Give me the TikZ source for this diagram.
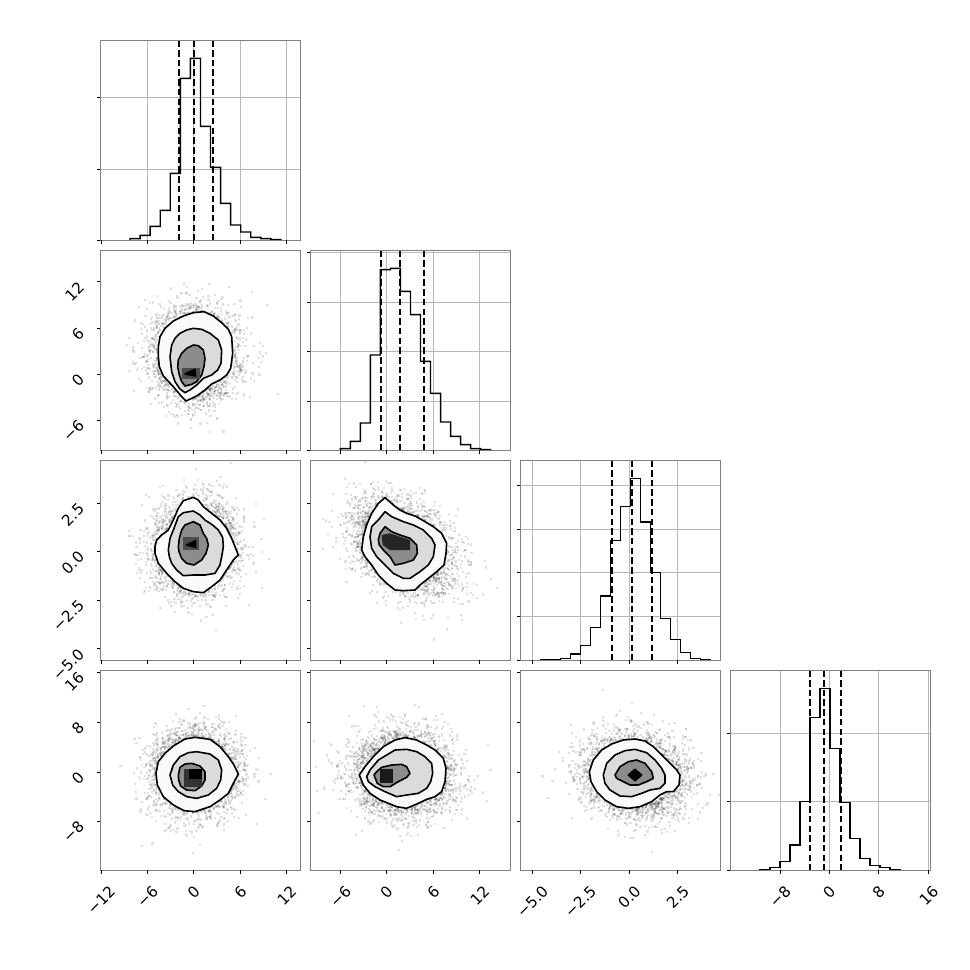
\documentclass[tikz,border=0pt]{standalone}
\usepackage{graphicx}
\usepackage{fontspec}
\setmainfont{DejaVu Sans}
\tikzset{
  frame/.style={draw=black!50, line width=1pt},
  gridl/.style={draw=black!28, line width=0.8pt},
  histl/.style={draw=black, line width=1.4pt, line join=miter},
  qline/.style={draw=black, line width=1.8pt, dash pattern=on 6.5pt off 3.2pt},
  tk/.style={draw=black, line width=0.8pt},
  cl/.style={draw=black, line width=1.6pt, line join=round},
  lvA/.style={cl, fill=black!2},
  lvB/.style={cl, fill=black!14},
  lvC/.style={cl, fill=black!45},
  lab/.style={inner sep=0pt, font=\fontsize{15.2pt}{18pt}\selectfont},
}
\newcommand\mycloud[7]{%
  \pgfmathsetseed{#7}%
  \foreach \i in {1,...,#6}{%
    \pgfmathsetmacro\rr{sqrt(2.25-2*ln(rnd+0.00001))}%
    \pgfmathsetmacro\tt{360*rnd}%
    \pgfmathsetmacro\ca{\rr*cos(\tt)}%
    \pgfmathsetmacro\cb{\rr*sin(\tt)}%
    \pgfmathsetmacro\px{#1+#3*\ca-1.1}%
    \pgfmathsetmacro\py{#2+#4*(#5*\ca+sqrt(1-#5*#5)*\cb)-1.1}%
    \fill (\px,\py) rectangle +(2.2,2.2);
  }}
\newcommand\myhist[4]{%
  \draw[histl] (#1,631) \foreach \h [count=\k] in {#4} { -- ({#1+(\k-1)*#2},\h) -- ({#1+\k*#2},\h) } -- (#3,631);}
\newcommand\xtk[2]{\foreach \xx in {#2}{\draw[tk] (\xx,#1) -- (\xx,#1+3.5);}}
\newcommand\ytk[2]{\foreach \yy in {#2}{\draw[tk] (#1,\yy) -- (#1-3.5,\yy);}}
\begin{document}
\begin{tikzpicture}[x=1pt,y=-1pt]
\fill[white] (0,0) rectangle (970,970);
\useasboundingbox (0,0) rectangle (970,970);

% ---------------- histogram 1 ----------------
\begin{scope}[shift={(90,30)}, scale=1/3]
  \foreach \g in {173,311,451,589} \draw[gridl] (\g,31) -- (\g,631);
  \foreach \g in {201,417} \draw[gridl] (31,\g) -- (631,\g);
  \myhist{120}{30.2}{573}{626,616,589,541,430,145,85,289,412,520,585,606,622,626,629}
  \foreach \q in {267,312,369} \draw[qline] (\q,31) -- (\q,631);
\end{scope}
% ---------------- histogram 2 ----------------
\begin{scope}[shift={(300,240)}, scale=1/3]
  \foreach \g in {121,259,400,539} \draw[gridl] (\g,31) -- (\g,631);
  \foreach \g in {37,186,334,484} \draw[gridl] (31,\g) -- (631,\g);
  \myhist{121}{30.07}{572}{626,604,549,345,89,85,154,224,364,460,546,589,614,626,629}
  \foreach \q in {243,300,372} \draw[qline] (\q,31) -- (\q,631);
\end{scope}
% ---------------- histogram 3 ----------------
\begin{scope}[shift={(510,450)}, scale=1/3]
  \foreach \g in {67,211,357,502} \draw[gridl] (\g,31) -- (\g,631);
  \foreach \g in {107,238,368,499} \draw[gridl] (31,\g) -- (631,\g);
  \myhist{91}{30}{601}{629,628,625,612,586,532,438,272,170,85,216,367,505,568,607,625,629}
  \foreach \q in {305,365,426} \draw[qline] (\q,31) -- (\q,631);
\end{scope}
% ---------------- histogram 4 ----------------
\begin{scope}[shift={(720,660)}, scale=1/3]
  \foreach \g in {180,327,476,626} \draw[gridl] (\g,31) -- (\g,631);
  \foreach \g in {220,425} \draw[gridl] (31,\g) -- (631,\g);
  \myhist{120}{30}{540}{628,622,604,555,425,172,86,266,427,535,595,616,622,628}
  \foreach \q in {269,312,362} \draw[qline] (\q,31) -- (\q,631);
\end{scope}

% ---------------- scatter clouds ----------------
\begin{scope}[fill=black, fill opacity=0.12]
\begin{scope}\clip (100.3,250.3) rectangle (300.3,450.3);
  \mycloud{195}{355}{20}{22}{0}{1500}{11}\end{scope}
\begin{scope}\clip (100.3,460.3) rectangle (300.3,660.3);
  \mycloud{195}{547}{20}{22}{-0.05}{1500}{22}\end{scope}
\begin{scope}\clip (100.3,670.3) rectangle (300.3,870.3);
  \mycloud{195}{773}{20}{20}{0}{1500}{33}\end{scope}
\begin{scope}\clip (310.3,460.3) rectangle (510.3,660.3);
  \mycloud{403}{547}{24}{22}{0.35}{1500}{44}\end{scope}
\begin{scope}\clip (310.3,670.3) rectangle (510.3,870.3);
  \mycloud{403}{774}{24}{20}{0.05}{1500}{55}\end{scope}
\begin{scope}\clip (520.3,670.3) rectangle (720.3,870.3);
  \mycloud{635}{775}{24}{20}{0.1}{1500}{66}\end{scope}
\end{scope}

% ---------------- contours (2,1) ----------------
\begin{scope}[shift={(30,240)}, scale=1/3]
  \filldraw[lvA] (385,320)--(390,290)--(405,265)--(430,243)--(460,228)--(490,218)--(522,215)--(550,228)--(575,248)--(595,268)--(605,290)--(608,340)--(602,385)--(590,405)--(570,420)--(545,432)--(525,450)--(500,468)--(468,483)--(455,470)--(430,440)--(400,408)--(388,380)--(385,350)--cycle;
  \filldraw[lvB] (420,350)--(425,315)--(435,295)--(450,280)--(470,270)--(490,265)--(515,268)--(540,280)--(565,300)--(575,330)--(573,370)--(563,390)--(545,405)--(520,415)--(500,435)--(480,450)--(465,458)--(450,447)--(435,425)--(425,395)--cycle;
  \filldraw[lvC] (443,380)--(445,360)--(455,340)--(470,325)--(490,315)--(505,317)--(520,330)--(525,355)--(522,380)--(515,405)--(500,425)--(485,433)--(465,438)--(455,425)--(448,405)--cycle;
  \fill[black!70] (455,385) rectangle (510,418);
  \filldraw[cl, fill=black] (465,402)--(495,388)--(497,408)--cycle;
\end{scope}
% ---------------- contours (3,1) ----------------
\begin{scope}[shift={(30,450)}, scale=1/3]
  \filldraw[lvA] (375,290)--(380,270)--(395,255)--(415,240)--(430,210)--(445,175)--(460,152)--(490,142)--(505,150)--(520,170)--(545,190)--(570,210)--(590,235)--(605,265)--(625,315)--(610,330)--(590,360)--(570,390)--(545,410)--(520,428)--(490,425)--(460,415)--(435,395)--(410,370)--(385,340)--(375,310)--cycle;
  \filldraw[lvB] (418,320)--(415,300)--(420,265)--(430,240)--(445,200)--(460,188)--(490,183)--(510,195)--(525,210)--(548,225)--(565,240)--(578,262)--(580,290)--(575,320)--(570,345)--(555,370)--(525,375)--(490,375)--(460,377)--(440,360)--(425,340)--cycle;
  \filldraw[lvC] (447,305)--(445,290)--(448,265)--(455,240)--(465,225)--(490,215)--(510,225)--(520,250)--(530,265)--(535,285)--(528,310)--(515,330)--(492,345)--(470,340)--(455,325)--cycle;
  \fill[black!70] (458,262) rectangle (508,300);
  \filldraw[cl, fill=black] (470,285)--(497,272)--(497,292)--cycle;
\end{scope}
% ---------------- contours (4,1) ----------------
\begin{scope}[shift={(30,660)}, scale=1/3]
  \filldraw[lvA] (378,340)--(385,305)--(405,280)--(430,258)--(465,237)--(495,232)--(540,238)--(570,260)--(595,290)--(612,315)--(625,342)--(610,370)--(595,400)--(570,420)--(540,440)--(495,455)--(462,452)--(430,435)--(400,410)--(382,375)--cycle;
  \filldraw[lvB] (420,345)--(430,315)--(450,290)--(475,278)--(500,275)--(540,282)--(565,300)--(575,330)--(572,360)--(560,385)--(535,405)--(500,415)--(470,410)--(445,395)--(428,375)--cycle;
  \filldraw[lvC] (446,360)--(445,345)--(450,322)--(465,312)--(485,310)--(510,318)--(525,335)--(525,360)--(515,378)--(495,392)--(470,390)--(452,378)--cycle;
  \fill[black!80] (462,328) rectangle (515,382);
  \fill[black] (478,328) rectangle (515,358);
\end{scope}
% ---------------- contours (3,2) ----------------
\begin{scope}[shift={(300,450)}, scale=1/3]
  \filldraw[lvA] (185,300)--(190,260)--(200,225)--(215,190)--(235,160)--(255,143)--(280,165)--(300,180)--(320,190)--(345,198)--(370,212)--(400,230)--(425,250)--(440,280)--(438,310)--(432,345)--(410,365)--(385,385)--(360,405)--(345,420)--(310,422)--(285,420)--(260,400)--(235,375)--(215,345)--(195,320)--cycle;
  \filldraw[lvB] (215,295)--(210,260)--(215,230)--(235,210)--(255,185)--(275,200)--(310,215)--(340,225)--(370,240)--(395,265)--(405,285)--(400,320)--(385,345)--(360,365)--(330,385)--(310,385)--(280,370)--(255,345)--(230,320)--cycle;
  \filldraw[lvC] (238,285)--(235,270)--(240,250)--(255,230)--(275,245)--(300,255)--(330,265)--(350,285)--(352,310)--(340,330)--(310,340)--(285,345)--(270,320)--(250,300)--cycle;
  \fill[black!85] (245,255)--(270,250)--(330,270)--(330,300)--(270,300)--(248,285)--cycle;
\end{scope}
% ---------------- contours (4,2) ----------------
\begin{scope}[shift={(300,660)}, scale=1/3]
  \filldraw[lvA] (178,345)--(195,320)--(220,290)--(250,260)--(285,240)--(315,233)--(350,240)--(380,255)--(405,270)--(430,295)--(438,325)--(435,365)--(425,395)--(405,410)--(380,418)--(355,430)--(320,445)--(290,440)--(265,430)--(240,420)--(210,400)--(190,375)--cycle;
  \filldraw[lvB] (200,350)--(210,330)--(235,300)--(260,285)--(285,270)--(320,268)--(350,275)--(375,290)--(395,310)--(398,340)--(392,365)--(380,385)--(355,400)--(320,405)--(290,410)--(255,395)--(225,380)--(205,365)--cycle;
  \filldraw[lvC] (222,345)--(230,335)--(245,322)--(275,315)--(305,313)--(320,320)--(330,340)--(320,352)--(295,365)--(270,380)--(250,380)--(232,370)--cycle;
  \fill[black!90] (240,328) rectangle (280,368);
\end{scope}
% ---------------- contours (4,3) ----------------
\begin{scope}[shift={(300,660)}, scale=1/3]
  \filldraw[lvA] (868,335)--(880,300)--(905,270)--(935,252)--(970,240)--(1005,237)--(1035,243)--(1060,260)--(1085,285)--(1110,310)--(1130,330)--(1140,345)--(1137,375)--(1120,395)--(1100,395)--(1080,405)--(1055,425)--(1020,440)--(985,445)--(950,440)--(915,420)--(890,395)--(873,365)--cycle;
  \filldraw[lvB] (910,345)--(920,310)--(945,285)--(975,272)--(1005,268)--(1040,278)--(1065,300)--(1085,325)--(1095,345)--(1095,370)--(1080,385)--(1050,390)--(1025,400)--(995,410)--(960,408)--(930,390)--(915,370)--cycle;
  \filldraw[lvC] (945,345)--(960,320)--(985,305)--(1010,300)--(1035,310)--(1055,335)--(1060,355)--(1040,365)--(1015,375)--(990,375)--(970,365)--(950,355)--cycle;
  \filldraw[cl, fill=black] (985,345)--(1005,328)--(1025,345)--(1005,362)--cycle;
\end{scope}

% ---------------- frames ----------------
\draw[frame] (100.3,40.3) rectangle (300.3,240.3);
\foreach \c in {0,1} \draw[frame] (100.3+210*\c,250.3) rectangle (300.3+210*\c,450.3);
\foreach \c in {0,1,2} \draw[frame] (100.3+210*\c,460.3) rectangle (300.3+210*\c,660.3);
\foreach \c in {0,1,2,3} \draw[frame] (100.3+210*\c,670.3) rectangle (300.3+210*\c,870.3);

% ---------------- ticks ----------------
\xtk{240.3}{101,147.4,193.7,240.3,286.6}
\xtk{450.3}{101,147.4,193.7,240.3,286.6}
\xtk{450.3}{340.3,386.3,433.3,479.7}
\xtk{660.3}{101,147.4,193.7,240.3,286.6}
\xtk{660.3}{340.3,386.3,433.3,479.7}
\xtk{660.3}{532.3,580.3,629.3,677.7}
\xtk{870.3}{101,147.4,193.7,240.3,286.6}
\xtk{870.3}{340.3,386.3,433.3,479.7}
\xtk{870.3}{532.3,580.3,629.3,677.7}
\xtk{870.3}{780,829,878.7,928.7}
\ytk{100.3}{97,169,240.3}
\ytk{100.3}{281.7,328,374.3,420.3}
\ytk{310.3}{252.3,302,351.3,401.3,450.3}
\ytk{100.3}{503.3,551.3,600,648.7}
\ytk{310.3}{503.3,551.3,600,648.7}
\ytk{520.3}{485.7,529.3,572.7,616.3,660.3}
\ytk{100.3}{672.3,722.3,772.3,821.3}
\ytk{310.3}{672.3,722.3,772.3,821.3}
\ytk{520.3}{672.3,722.3,772.3,821.3}
\ytk{730.3}{733.3,801.7,870.3}

% ---------------- tick labels ----------------
\foreach \xx/\tx [count=\k] in {101/−12,147.4/−6,193.7/0,240.3/6,286.6/12,340.3/−6,386.3/0,433.3/6,479.7/12,532.3/−5.0,580.3/−2.5,629.3/0.0,677.7/2.5,780/−8,829/0,878.7/8,928.7/16}
  \node[lab, anchor=north] (xl\k) at (\xx,884.5) {\rotatebox{45}{\tx}};
\foreach \yy/\tx [count=\k] in {281.7/12,328/6,374.3/0,420.3/−6,503.3/2.5,551.3/0.0,600/−2.5,648.7/−5.0,672.3/16,722.3/8,772.3/0,821.3/−8}
  \node[lab, anchor=north east] (yl\k) at (85.5,\yy-1.5) {\rotatebox{45}{\tx}};
\end{tikzpicture}
\end{document}
